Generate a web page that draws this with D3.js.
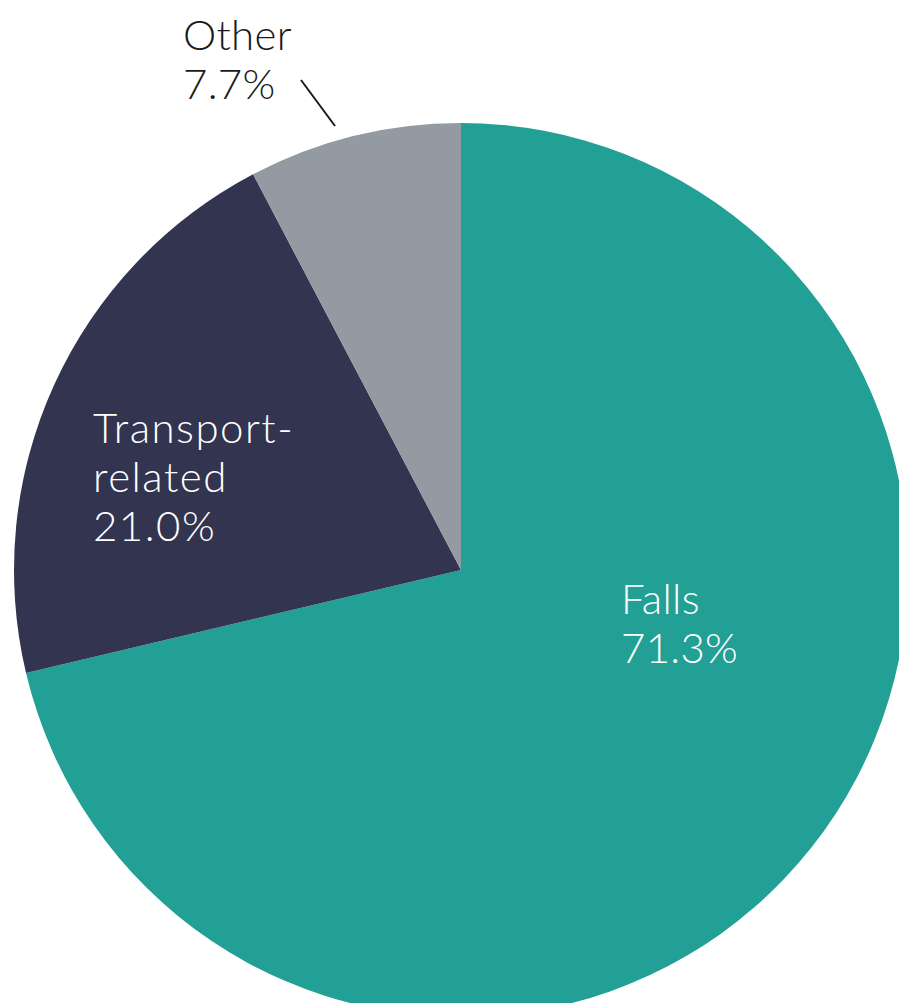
<!DOCTYPE html>
<html>
<head>
<meta charset="utf-8">
<script src="https://cdn.jsdelivr.net/npm/d3@7"></script>
<style>
  html, body { margin: 0; padding: 0; background: #ffffff; }
  svg { display: block; }
  text { font-family: Lato, "Open Sans", sans-serif; font-weight: 300; }
</style>
</head>
<body>
<svg id="chart" width="899" height="1003"></svg>
<script>
// Injury causes (share of cases, %)
const categories = ["Falls", "Transport-related", "Other"];
const values = [71.3, 21.0, 7.7];
const colors = ["#22a095", "#323450", "#939aa2"];
const labelLines = [["Falls", "71.3%"], ["Transport-", "related", "21.0%"], ["Other", "7.7%"]];

const svg = d3.select("#chart");
const cx = 461, cy = 570, radius = 447;

const pie = d3.pie().sort(null).value(d => d)(values);
const arc = d3.arc().innerRadius(0).outerRadius(radius);

const g = svg.append("g").attr("transform", `translate(${cx},${cy})`);
g.selectAll("path")
  .data(pie)
  .join("path")
  .attr("d", arc)
  .attr("fill", (d, i) => colors[i]);

// Label placements (first baseline of each text block)
const labelPos = [
  { x: 621, y: 614, fill: "#ffffff" },
  { x: 93, y: 443, fill: "#ffffff" },
  { x: 183, y: 50, fill: "#1a1a1a" }
];
const lineH = 49;

labelLines.forEach((lines, i) => {
  const t = svg.append("text")
    .attr("x", labelPos[i].x)
    .attr("y", labelPos[i].y)
    .attr("fill", labelPos[i].fill)
    .style("font-size", "42px")
    .style("letter-spacing", lines[0] === "Transport-" ? "1.5px" : "0.3px");
  lines.forEach((s, k) => {
    t.append("tspan")
      .attr("x", labelPos[i].x)
      .attr("y", labelPos[i].y + k * lineH)
      .text(s);
  });
});

// Leader line for the small slice
svg.append("line")
  .attr("x1", 301).attr("y1", 80)
  .attr("x2", 335).attr("y2", 126)
  .attr("stroke", "#1a1a1a")
  .attr("stroke-width", 2);
</script>
</body>
</html>
